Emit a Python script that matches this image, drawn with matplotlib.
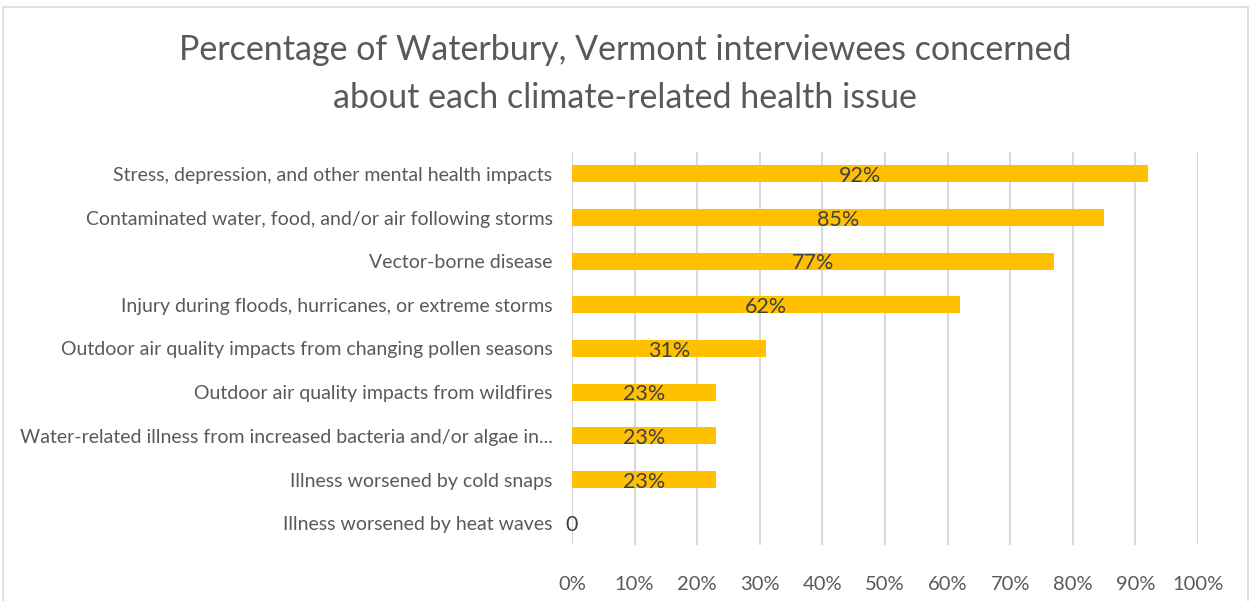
import matplotlib.pyplot as plt
from matplotlib.patches import Rectangle

plt.rcParams['font.family'] = ['Lato', 'DejaVu Sans']

issues = [
    "Stress, depression, and other mental health impacts",
    "Contaminated water, food, and/or air following storms",
    "Vector-borne disease",
    "Injury during floods, hurricanes, or extreme storms",
    "Outdoor air quality impacts from changing pollen seasons",
    "Outdoor air quality impacts from wildfires",
    "Water-related illness from increased bacteria and/or algae in...",
    "Illness worsened by cold snaps",
    "Illness worsened by heat waves",
]
pct = [92, 85, 77, 62, 31, 23, 23, 23, 0]
value_labels = ["92%", "85%", "77%", "62%", "31%", "23%", "23%", "23%", "0"]
ticks = [0, 10, 20, 30, 40, 50, 60, 70, 80, 90, 100]

fig = plt.figure(figsize=(12.5, 6.01), dpi=100)
fig.patches.append(Rectangle((3 / 1250, -0.01), 1245 / 1250, 1 - 7 / 601 + 0.01,
                             transform=fig.transFigure, fill=False,
                             edgecolor='#d9d9d9', linewidth=1.2))

ax = fig.add_axes([572 / 1250, 1 - 545 / 601, 626 / 1250, 393 / 601])
y = list(range(len(issues)))
ax.barh(y, pct, height=0.39, color='#FFC000', zorder=2)
for yi, v, lab in zip(y, pct, value_labels):
    ax.text(v / 2, yi + 0.05, lab, ha='center', va='center', fontsize=15.5,
            color='#404040', zorder=3)

ax.set_xlim(0, 100)
ax.set_ylim(len(issues) - 0.5, -0.5)
ax.set_yticks(y)
ax.set_yticklabels(issues, fontsize=14, color='#595959')
ax.set_xticks(ticks)
ax.set_xticklabels([f"{t}%" for t in ticks], fontsize=14.5, color='#595959')
ax.tick_params(axis='y', length=0, pad=14)
ax.tick_params(axis='x', length=0, pad=22)
ax.grid(axis='x', color='#d9d9d9', linewidth=1.5, zorder=0)
for s in ax.spines.values():
    s.set_visible(False)

fig.text(0.5, 1 - 74 / 601,
         "Percentage of Waterbury, Vermont interviewees concerned\nabout each climate-related health issue",
         ha='center', va='center', fontsize=24.5, color='#595959', linespacing=1.6)

fig.savefig('out.png', dpi=100)
